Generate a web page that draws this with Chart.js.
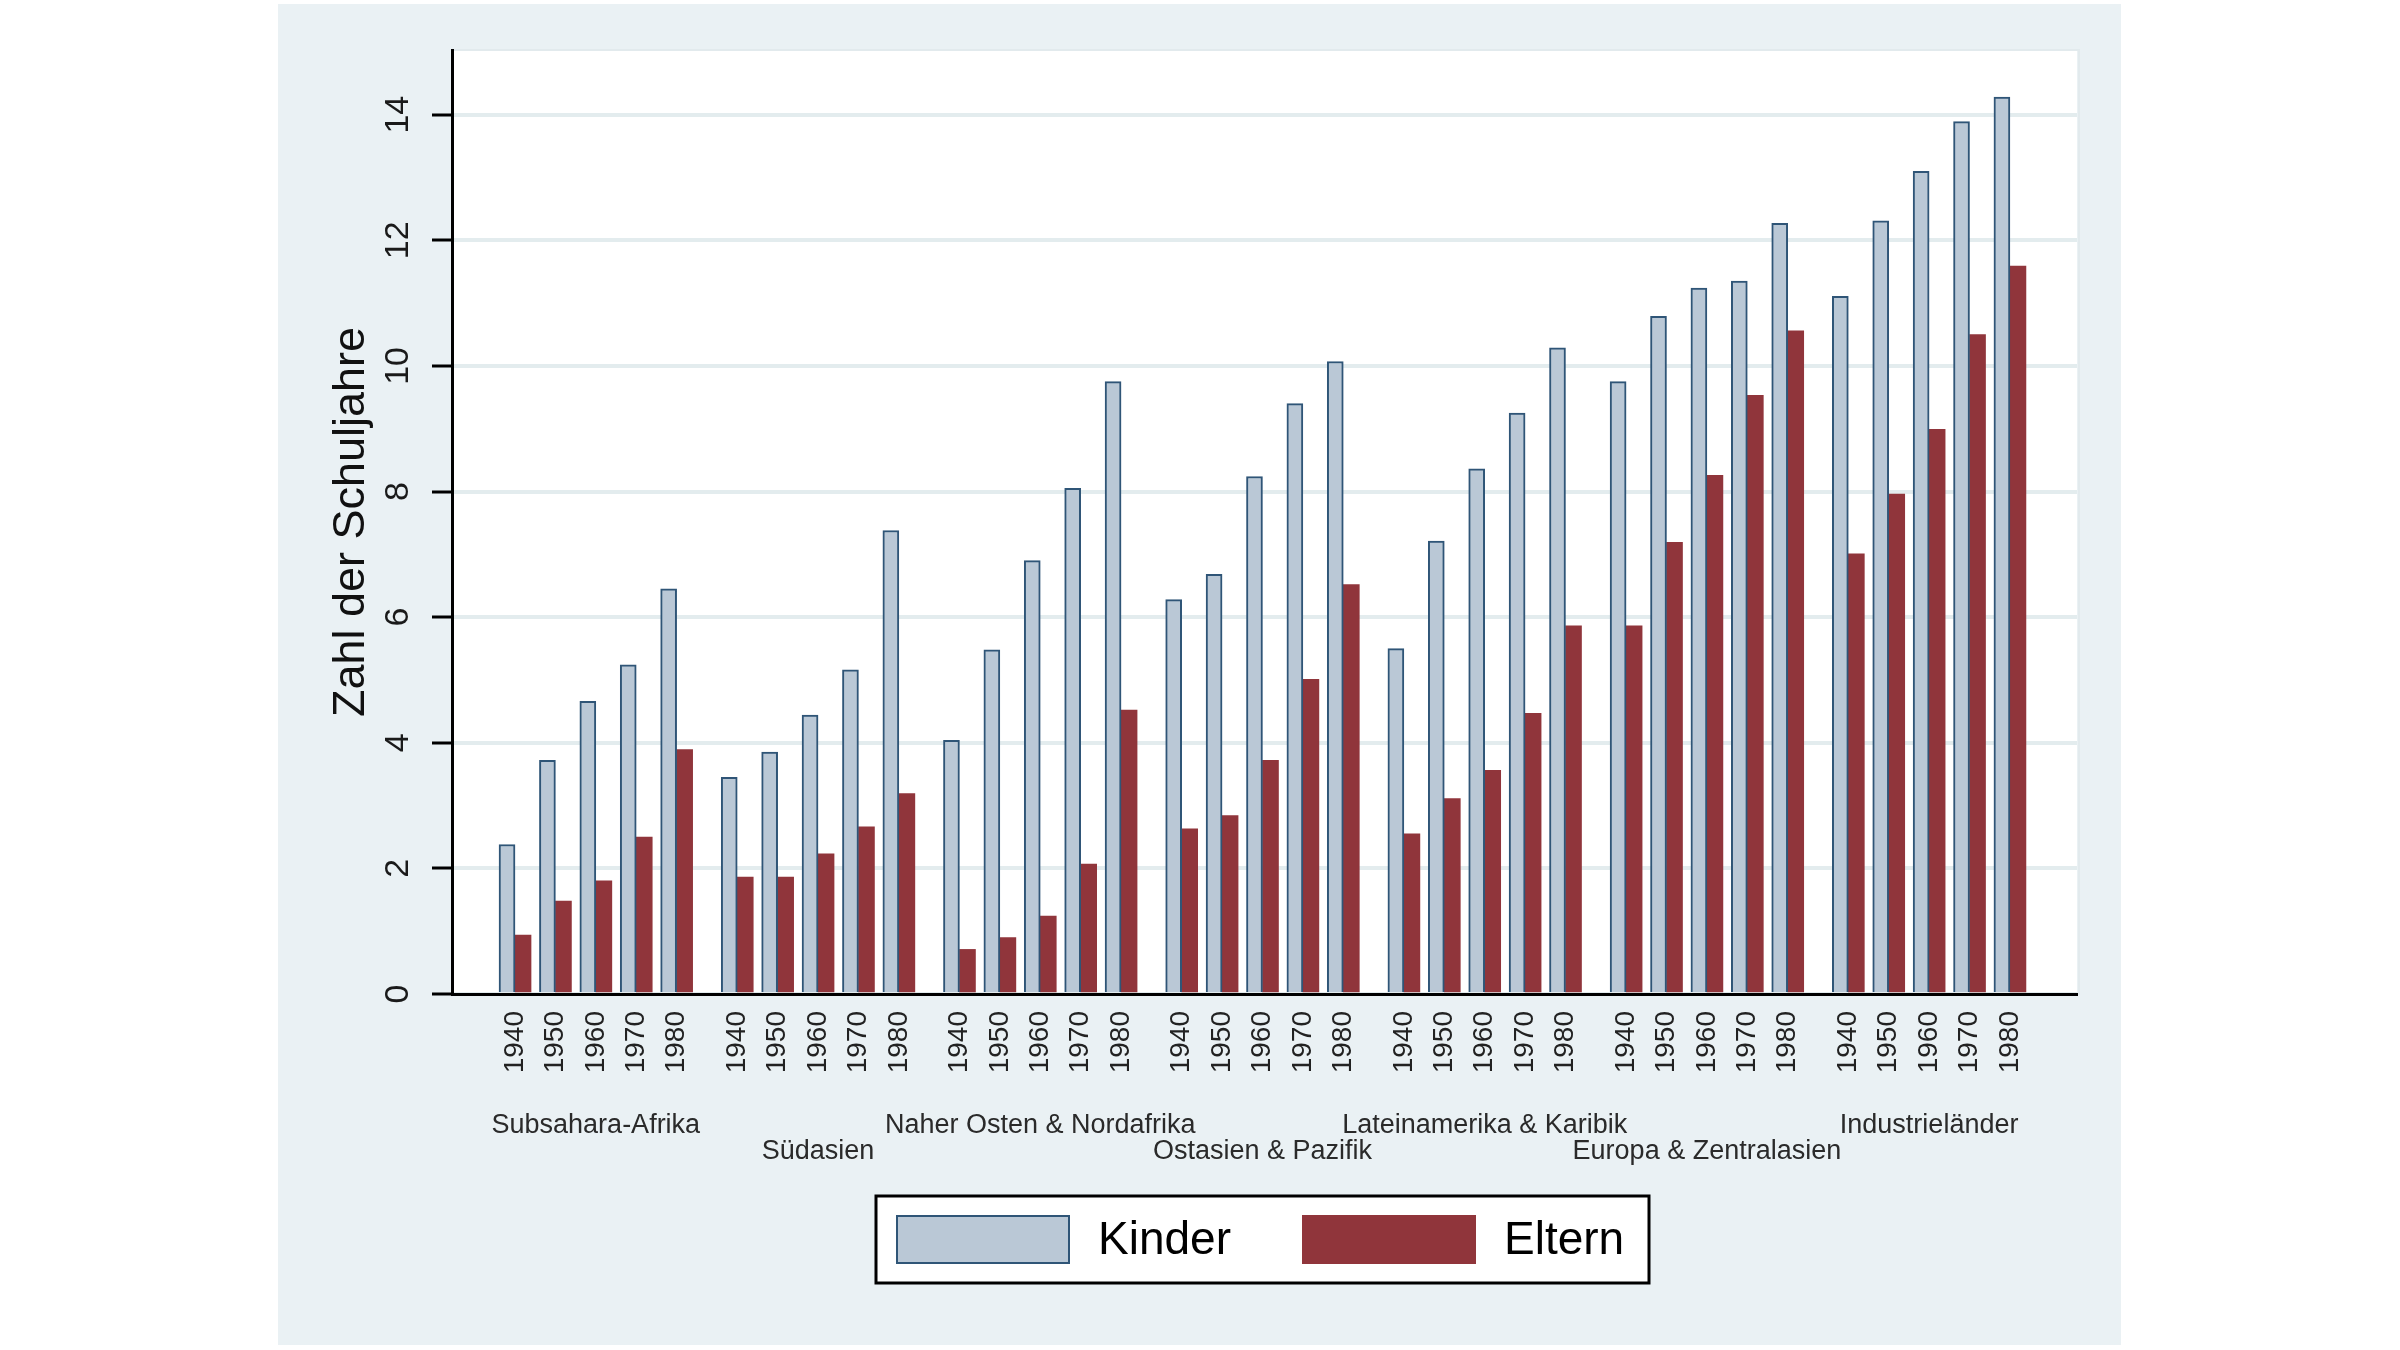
<!DOCTYPE html>
<html>
<head>
<meta charset="utf-8">
<script src="https://cdn.jsdelivr.net/npm/chart.js@4.4.1/dist/chart.umd.min.js"></script>
<style>
  html, body { margin: 0; padding: 0; background: #fff; }
  canvas { display: block; }
</style>
</head>
<body>
<canvas id="myChart" width="2400" height="1350"></canvas>
<script>
const REGIONS = ['Subsahara-Afrika', 'Südasien', 'Naher Osten & Nordafrika', 'Ostasien & Pazifik',
  'Lateinamerika & Karibik', 'Europa & Zentralasien', 'Industrieländer'];
const YEARS = ['1940', '1950', '1960', '1970', '1980'];
const KINDER = [
  [2.38, 3.72, 4.66, 5.24, 6.45],
  [3.45, 3.85, 4.44, 5.16, 7.38],
  [4.04, 5.48, 6.90, 8.05, 9.75],
  [6.28, 6.68, 8.24, 9.40, 10.07],
  [5.50, 7.21, 8.36, 9.25, 10.29],
  [9.75, 10.79, 11.24, 11.35, 12.27],
  [11.11, 12.31, 13.10, 13.89, 14.28]
];
const ELTERN = [
  [0.94, 1.48, 1.80, 2.50, 3.89],
  [1.86, 1.86, 2.23, 2.66, 3.19],
  [0.71, 0.90, 1.24, 2.07, 4.52],
  [2.63, 2.84, 3.72, 5.01, 6.52],
  [2.55, 3.11, 3.56, 4.47, 5.86],
  [5.86, 7.19, 8.26, 9.53, 10.56],
  [7.01, 7.96, 8.99, 10.50, 11.59]
];
const Y_TICKS = [0, 2, 4, 6, 8, 10, 12, 14];

const GROUP_STEP = 5.5;   // one region = 5 year slots plus a gap
const FONT = '"Liberation Sans", Arial, sans-serif';

// x position of every year slot, region by region
const positions = [];
REGIONS.forEach((r, g) => YEARS.forEach((y, i) => positions.push(g * GROUP_STEP + i)));
const toPoints = series => series.flat().map((v, k) => ({ x: positions[k], y: v }));

const background = {
  id: 'background',
  beforeDraw(chart) {
    const { ctx, chartArea: a } = chart;
    ctx.save();
    ctx.fillStyle = '#ffffff';
    ctx.fillRect(0, 0, chart.width, chart.height);
    ctx.fillStyle = '#eaf1f4';
    ctx.fillRect(278, 4, 1843, 1341);
    ctx.fillStyle = '#ffffff';
    ctx.fillRect(a.left, a.top, a.right - a.left, a.bottom - a.top);
    ctx.strokeStyle = '#e2eaed';
    ctx.lineWidth = 2;
    ctx.strokeRect(a.left, a.top, a.right - a.left + 2, a.bottom - a.top);
    ctx.restore();
  }
};

const groupLabels = {
  id: 'groupLabels',
  afterDraw(chart) {
    const { ctx } = chart;
    const x = chart.scales.x;
    ctx.save();
    ctx.font = '27px ' + FONT;
    ctx.fillStyle = '#2a2a2a';
    ctx.textAlign = 'center';
    ctx.textBaseline = 'alphabetic';
    REGIONS.forEach((name, g) => {
      ctx.fillText(name, x.getPixelForValue(g * GROUP_STEP + 2), g % 2 ? 1159 : 1133);
    });
    ctx.restore();
  }
};

const legendBox = {
  id: 'legendBox',
  afterDraw(chart) {
    const { ctx } = chart;
    const ds = chart.data.datasets;
    ctx.save();
    ctx.fillStyle = '#ffffff';
    ctx.fillRect(876, 1196, 773, 87);
    ctx.lineWidth = 3;
    ctx.strokeStyle = '#000000';
    ctx.strokeRect(876, 1196, 773, 87);
    const swatchX = [896, 1302];
    ds.forEach((d, i) => {
      ctx.fillStyle = d.backgroundColor;
      ctx.fillRect(swatchX[i], 1215, 174, 49);
      if (d.borderWidth) {
        ctx.lineWidth = 2;
        ctx.strokeStyle = d.borderColor;
        ctx.strokeRect(swatchX[i] + 1, 1216, 172, 47);
      }
      ctx.fillStyle = '#000000';
      ctx.font = '46px ' + FONT;
      ctx.textAlign = 'left';
      ctx.textBaseline = 'alphabetic';
      ctx.fillText(d.label, swatchX[i] + 202, 1254);
    });
    ctx.restore();
  }
};

const ctx = document.getElementById('myChart').getContext('2d');
const myChart = new Chart(ctx, {
  type: 'bar',
  data: {
    datasets: [
      {
        label: 'Kinder',
        data: toPoints(KINDER),
        backgroundColor: '#bac8d6',
        borderColor: '#2f5577',
        borderWidth: 2,
        borderSkipped: 'bottom',
        barThickness: 16
      },
      {
        label: 'Eltern',
        data: toPoints(ELTERN),
        backgroundColor: '#90353b',
        borderWidth: 0,
        barThickness: 16
      }
    ]
  },
  options: {
    responsive: false,
    animation: false,
    devicePixelRatio: 1,
    layout: { padding: { left: 279, right: 323, top: 50, bottom: 0 } },
    plugins: {
      legend: { display: false },
      tooltip: { enabled: false }
    },
    scales: {
      x: {
        type: 'linear',
        offset: false,
        min: -1.56,
        max: 38.66,
        afterBuildTicks: scale => { scale.ticks = positions.map(v => ({ value: v })); },
        afterFit: scale => { scale.height = 356; },
        ticks: {
          autoSkip: false,
          minRotation: 90,
          maxRotation: 90,
          padding: 17,
          color: '#222222',
          font: { family: FONT, size: 28 },
          callback: (value, index) => YEARS[index % YEARS.length]
        },
        grid: { display: true, drawOnChartArea: false, drawTicks: false },
        border: { display: true, color: '#000000', width: 3 }
      },
      y: {
        min: 0,
        max: 15.03,
        afterBuildTicks: scale => { scale.ticks = Y_TICKS.map(v => ({ value: v })); },
        afterFit: scale => { scale.width = 173; },
        ticks: {
          minRotation: 90,
          maxRotation: 90,
          crossAlign: 'center',
          padding: 14,
          color: '#1a1a1a',
          font: { family: FONT, size: 34 }
        },
        grid: {
          color: '#e3ecee',
          lineWidth: 4,
          tickColor: '#000000',
          tickLength: 20,
          tickWidth: 3
        },
        border: { display: true, color: '#000000', width: 3 },
        title: {
          display: true,
          text: 'Zahl der Schuljahre',
          color: '#111111',
          font: { family: FONT, size: 45 },
          padding: { top: 46, bottom: 0 }
        }
      }
    }
  },
  plugins: [background, groupLabels, legendBox]
});
</script>
</body>
</html>
